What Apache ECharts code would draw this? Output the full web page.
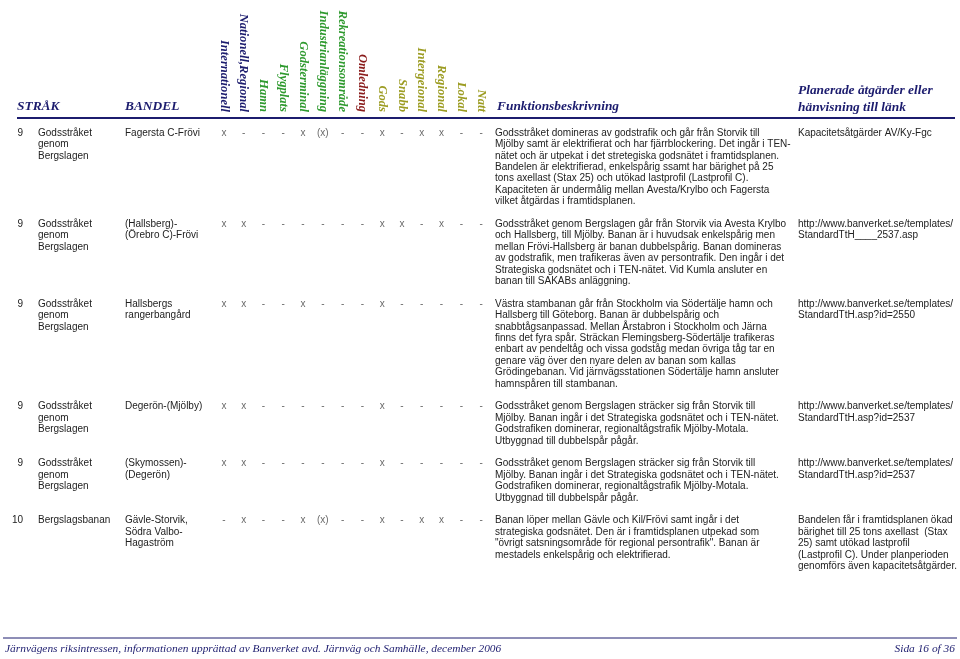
<!DOCTYPE html>
<html><head><meta charset="utf-8">
<script src="https://cdn.jsdelivr.net/npm/echarts@6/dist/echarts.min.js"></script>
<style>html,body{margin:0;padding:0;background:#fff}#c{width:960px;height:659px}</style>
</head><body><div id="c"></div>
<script>
const flagHeaders = ['Internationell','Nationell,Regional','Hamn','Flygplats','Godsterminal','Industrianläggning','Rekreationsområde','Omledning','Gods','Snabb','Intergeional','Regional','Lokal','Natt'];
const headerGroup = ['n','n','g','g','g','g','g','r','o','o','o','o','o','o'];
const rowNums = ['9','9','9','9','9','10'];
const strak = ['Godsstråket\ngenom\nBergslagen','Godsstråket\ngenom\nBergslagen','Godsstråket\ngenom\nBergslagen','Godsstråket\ngenom\nBergslagen','Godsstråket\ngenom\nBergslagen','Bergslagsbanan'];
const bandel = ['Fagersta C-Frövi','(Hallsberg)-\n(Örebro C)-Frövi','Hallsbergs\nrangerbangård','Degerön-(Mjölby)','(Skymossen)-\n(Degerön)','Gävle-Storvik,\nSödra Valbo-\nHagaström'];
const flags = [
  ['x','-','-','-','x','(x)','-','-','x','-','x','x','-','-'],
  ['x','x','-','-','-','-','-','-','x','x','-','x','-','-'],
  ['x','x','-','-','x','-','-','-','x','-','-','-','-','-'],
  ['x','x','-','-','-','-','-','-','x','-','-','-','-','-'],
  ['x','x','-','-','-','-','-','-','x','-','-','-','-','-'],
  ['-','x','-','-','x','(x)','-','-','x','-','x','x','-','-']
];
const desc = [
  'Godsstråket domineras av godstrafik och går från Storvik till\nMjölby samt är elektrifierat och har fjärrblockering. Det ingår i TEN-\nnätet och är utpekat i det stretegiska godsnätet i framtidsplanen.\nBandelen är elektrifierad, enkelspårig ssamt har bärighet på 25\ntons axellast (Stax 25) och utökad lastprofil (Lastprofil C).\nKapaciteten är undermålig mellan Avesta/Krylbo och Fagersta\nvilket åtgärdas i framtidsplanen.',
  'Godsstråket genom Bergslagen går från Storvik via Avesta Krylbo\noch Hallsberg, till Mjölby. Banan är i huvudsak enkelspårig men\nmellan Frövi-Hallsberg är banan dubbelspårig. Banan domineras\nav godstrafik, men trafikeras även av persontrafik. Den ingår i det\nStrategiska godsnätet och i TEN-nätet. Vid Kumla ansluter en\nbanan till SAKABs anläggning.',
  'Västra stambanan går från Stockholm via Södertälje hamn och\nHallsberg till Göteborg. Banan är dubbelspårig och\nsnabbtågsanpassad. Mellan Årstabron i Stockholm och Järna\nfinns det fyra spår. Sträckan Flemingsberg-Södertälje trafikeras\nenbart av pendeltåg och vissa godståg medan övriga tåg tar en\ngenare väg över den nyare delen av banan som kallas\nGrödingebanan. Vid järnvägsstationen Södertälje hamn ansluter\nhamnspåren till stambanan.',
  'Godsstråket genom Bergslagen sträcker sig från Storvik till\nMjölby. Banan ingår i det Strategiska godsnätet och i TEN-nätet.\nGodstrafiken dominerar, regionaltågstrafik Mjölby-Motala.\nUtbyggnad till dubbelspår pågår.',
  'Godsstråket genom Bergslagen sträcker sig från Storvik till\nMjölby. Banan ingår i det Strategiska godsnätet och i TEN-nätet.\nGodstrafiken dominerar, regionaltågstrafik Mjölby-Motala.\nUtbyggnad till dubbelspår pågår.',
  'Banan löper mellan Gävle och Kil/Frövi samt ingår i det\nstrategiska godsnätet. Den är i framtidsplanen utpekad som\n"övrigt satsningsområde för regional persontrafik". Banan är\nmestadels enkelspårig och elektrifierad.'
];
const links = [
  'Kapacitetsåtgärder AV/Ky-Fgc',
  'http://www.banverket.se/templates/\nStandardTtH____2537.asp',
  'http://www.banverket.se/templates/\nStandardTtH.asp?id=2550',
  'http://www.banverket.se/templates/\nStandardTtH.asp?id=2537',
  'http://www.banverket.se/templates/\nStandardTtH.asp?id=2537',
  'Bandelen får i framtidsplanen ökad\nbärighet till 25 tons axellast  (Stax\n25) samt utökad lastprofil\n(Lastprofil C). Under planperioden\ngenomförs även kapacitetsåtgärder.'
];
const footerText = 'Järnvägens riksintressen, informationen upprättad av Banverket avd. Järnväg och Samhälle, december 2006';
const pageText = 'Sida 16 of 36';

const groupColors = {n:'#1c1c6e', g:'#2f9a2f', r:'#8a1c1c', o:'#9c9c22'};
const navy = '#1c1c6e';
const LH = 11.4, TOP = 133;
const lines = s => s.split('\n').length;
const rowOffset = [];
let acc = 0;
for (let i = 0; i < desc.length; i++) {
  rowOffset.push(acc);
  acc += Math.max(lines(strak[i]), lines(bandel[i]), lines(desc[i]), lines(links[i])) + 1;
}
const lastOff = rowOffset[rowOffset.length - 1];

const flagData = [];
flags.forEach((r, i) => r.forEach((v, j) => flagData.push([flagHeaders[j], rowOffset[i], v])));

const chart = echarts.init(document.getElementById('c'));
const bodyFont = {fontFamily: 'Liberation Sans, Arial, sans-serif', fontSize: 10, fill: '#222'};
const headFont = {fontFamily: 'Liberation Serif, Times New Roman, serif', fontSize: 13.4, fontWeight: 'bold', fontStyle: 'italic', fill: navy};

const option = {
  animation: false,
  grid: {left: 214, width: 277, top: TOP, height: lastOff * LH},
  xAxis: {
    type: 'category', data: flagHeaders, position: 'top',
    axisLine: {show: false}, axisTick: {show: false}, splitLine: {show: false},
    axisLabel: {
      interval: 0, rotate: -90, margin: 21,
      fontFamily: 'Liberation Serif, Times New Roman, serif', fontSize: 12.6, fontWeight: 'bold', fontStyle: 'italic',
      color: (v, i) => groupColors[headerGroup[flagHeaders.indexOf(v)]]
    }
  },
  yAxis: {type: 'value', min: 0, max: lastOff, inverse: true, show: false},
  series: [{
    type: 'scatter', data: flagData, symbolSize: 0, silent: true,
    label: {show: true, position: 'inside', formatter: p => p.value[2],
      fontFamily: 'Liberation Sans, Arial, sans-serif', fontSize: 10, color: '#444'}
  }],
  graphic: []
};
chart.setOption(option);

const g = [];
const rowY = off => chart.convertToPixel({gridIndex: 0}, [0, off])[1];
g.push({type: 'text', style: Object.assign({text: 'STRÅK', x: 17, y: 107, verticalAlign: 'middle'}, headFont)});
g.push({type: 'text', style: Object.assign({text: 'BANDEL', x: 125, y: 107, verticalAlign: 'middle'}, headFont)});
g.push({type: 'text', style: Object.assign({text: 'Funktionsbeskrivning', x: 497, y: 107, verticalAlign: 'middle'}, headFont)});
g.push({type: 'text', style: Object.assign({text: 'Planerade åtgärder eller\nhänvisning till länk', x: 798, y: 82, lineHeight: 17, verticalAlign: 'top'}, headFont)});
g.push({type: 'line', shape: {x1: 17, y1: 118, x2: 955, y2: 118}, style: {stroke: navy, lineWidth: 2}});
for (let i = 0; i < desc.length; i++) {
  const y = rowY(rowOffset[i]) - LH / 2;
  const base = o => Object.assign({lineHeight: LH, verticalAlign: 'top'}, bodyFont, o);
  g.push({type: 'text', style: base({text: rowNums[i], x: 23, y: y, align: 'right'})});
  g.push({type: 'text', style: base({text: strak[i], x: 38, y: y})});
  g.push({type: 'text', style: base({text: bandel[i], x: 125, y: y})});
  g.push({type: 'text', style: base({text: desc[i], x: 495, y: y})});
  g.push({type: 'text', style: base({text: links[i], x: 798, y: y})});
}
g.push({type: 'line', shape: {x1: 3, y1: 638, x2: 957, y2: 638}, style: {stroke: navy, lineWidth: 1}});
g.push({type: 'text', style: {text: footerText, x: 5, y: 649, verticalAlign: 'middle', fontFamily: 'Liberation Serif, Times New Roman, serif', fontSize: 11.4, fontStyle: 'italic', fill: navy}});
g.push({type: 'text', style: {text: pageText, x: 955, y: 649, align: 'right', verticalAlign: 'middle', fontFamily: 'Liberation Serif, Times New Roman, serif', fontSize: 11.4, fontStyle: 'italic', fill: navy}});
chart.setOption({graphic: g});
</script></body></html>
